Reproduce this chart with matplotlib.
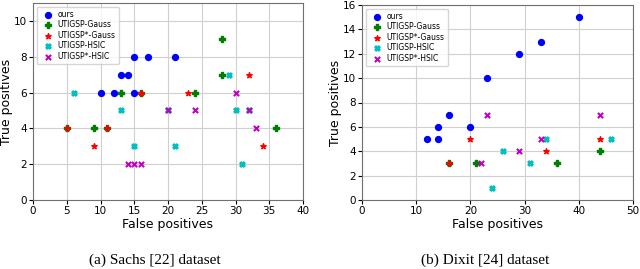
import matplotlib
matplotlib.use("Agg")
import matplotlib.pyplot as plt

# Sachs dataset
sachs_ours_fp = [10, 12, 13, 14, 15, 15, 17, 21]
sachs_ours_tp = [6, 6, 7, 7, 8, 6, 8, 8]
sachs_gauss_fp = [5, 9, 11, 13, 16, 24, 28, 28, 36]
sachs_gauss_tp = [4, 4, 4, 6, 6, 6, 9, 7, 4]
sachs_gauss_star_fp = [5, 9, 11, 16, 23, 32, 34]
sachs_gauss_star_tp = [4, 3, 4, 6, 6, 7, 3]
sachs_hsic_fp = [6, 13, 15, 20, 21, 29, 30, 31, 32]
sachs_hsic_tp = [6, 5, 3, 5, 3, 7, 5, 2, 5]
sachs_hsic_star_fp = [14, 15, 16, 20, 24, 30, 32, 33]
sachs_hsic_star_tp = [2, 2, 2, 5, 5, 6, 5, 4]

# Dixit dataset
dixit_ours_fp = [12, 14, 14, 16, 20, 23, 29, 33, 40]
dixit_ours_tp = [5, 5, 6, 7, 6, 10, 12, 13, 15]
dixit_gauss_fp = [16, 21, 36, 44]
dixit_gauss_tp = [3, 3, 3, 4]
dixit_gauss_star_fp = [16, 20, 34, 44]
dixit_gauss_star_tp = [3, 5, 4, 5]
dixit_hsic_fp = [24, 26, 31, 34, 46]
dixit_hsic_tp = [1, 4, 3, 5, 5]
dixit_hsic_star_fp = [22, 23, 29, 33, 44]
dixit_hsic_star_tp = [3, 7, 4, 5, 7]

labels = ["ours", "UTIGSP-Gauss", "UTIGSP*-Gauss", "UTIGSP-HSIC", "UTIGSP*-HSIC"]
styles = [("o", "#0000ff", 18), ("P", "#007f00", 14), ("*", "#ff0000", 16),
          ("X", "#00bfbf", 14), ("x", "#bf00bf", 14)]

fig = plt.figure(figsize=(6.4, 2.69), dpi=100)
ax1 = fig.add_axes([33 / 640, 69 / 269, 270 / 640, 197 / 269])
ax2 = fig.add_axes([362 / 640, 69 / 269, 271 / 640, 195 / 269])


def draw(ax, series, xmax, ymax, xticks, yticks):
    for (fp, tp), lab, (m, c, sz) in zip(series, labels, styles):
        ax.scatter(fp, tp, marker=m, color=c, s=sz, label=lab, zorder=3)
    ax.set_xlim(0, xmax)
    ax.set_ylim(0, ymax)
    ax.set_xticks(xticks)
    ax.set_yticks(yticks)
    ax.grid(True, color="#d0d0d0", linewidth=0.8)
    ax.set_axisbelow(True)
    ax.set_xlabel("False positives", fontsize=9, labelpad=1)
    ax.set_ylabel("True positives", fontsize=9, labelpad=0.5)
    ax.tick_params(labelsize=7.5, length=3, pad=1.5)
    for s in ax.spines.values():
        s.set_color("#707070")
    ax.legend(loc="upper left", fontsize=5.5, framealpha=0.8,
              handletextpad=0.3, borderpad=0.4, labelspacing=0.2)


draw(ax1, [(sachs_ours_fp, sachs_ours_tp), (sachs_gauss_fp, sachs_gauss_tp),
           (sachs_gauss_star_fp, sachs_gauss_star_tp),
           (sachs_hsic_fp, sachs_hsic_tp),
           (sachs_hsic_star_fp, sachs_hsic_star_tp)],
     40, 11, range(0, 41, 5), range(0, 11, 2))
draw(ax2, [(dixit_ours_fp, dixit_ours_tp), (dixit_gauss_fp, dixit_gauss_tp),
           (dixit_gauss_star_fp, dixit_gauss_star_tp),
           (dixit_hsic_fp, dixit_hsic_tp),
           (dixit_hsic_star_fp, dixit_hsic_star_tp)],
     50, 16, range(0, 51, 10), range(0, 17, 2))

fig.text(155 / 640, 1 - 260 / 269, "(a) Sachs [22] dataset", ha="center",
         va="center", fontsize=11, family="Liberation Serif")
fig.text(485 / 640, 1 - 260 / 269, "(b) Dixit [24] dataset", ha="center",
         va="center", fontsize=11, family="Liberation Serif")

fig.savefig("out.png", dpi=100)
